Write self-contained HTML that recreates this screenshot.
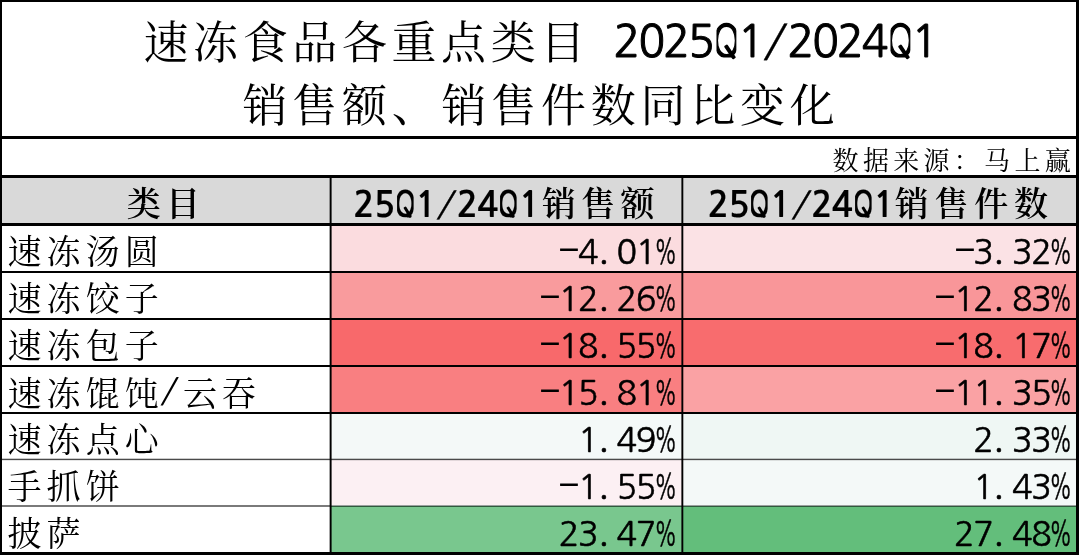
<!DOCTYPE html><html><head><meta charset="utf-8"><style>
*{margin:0;padding:0;box-sizing:border-box}
html,body{width:1080px;height:556px;overflow:hidden;background:#fff}
body{position:relative;font-family:"Liberation Serif","Noto Serif CJK SC",serif;color:#000}
.a{position:absolute;white-space:nowrap}
.k{font-family:"Liberation Serif","Noto Serif CJK SC",serif;line-height:1;font-weight:400}
.b{font-weight:600}
.ln{position:absolute;background:#000}
.bg{position:absolute}
.lat{font-family:"NanumGothic",sans-serif;line-height:1}
.m{display:inline-flex;justify-content:center}
.t1{font-weight:400;-webkit-text-stroke:1.0px #000}
.t1 .m{width:24.83px;transform:scaleX(1.0)}
.hd{font-weight:700;-webkit-text-stroke:0.15px #000}
.hd .m{width:20.7px;transform:scaleX(1.0)}
.nm{font-weight:400;-webkit-text-stroke:0.55px #000}
.nm .m{width:19.3px;transform:scaleX(1.0)}
.nm .d{transform:translateY(-1px) scaleX(2);-webkit-text-stroke:0}
.nm .o{transform:translate(-4px,-1.5px) scale(1.15);transform-origin:50% 88%}
.nm .p{transform:scaleX(.62)}
.t1 .q{transform:scaleX(.8);clip-path:inset(0 0 5.7px 0);-webkit-text-stroke:1.5px #000}
.t1 .s{transform:skewX(-12deg);-webkit-text-stroke:0.3px #000}
.hd .q{transform:scaleX(.8);clip-path:inset(0 0 5px 0)}
.hd .s{transform:skewX(-14deg);font-weight:400;-webkit-text-stroke:0.3px #000}
.qt{position:absolute;background:#000;border-radius:1px}
.sl{display:inline-flex;justify-content:center;font-family:"NanumGothic",sans-serif;font-weight:400;width:19px;transform:translate(-1.5px,-3.5px) skewX(-12deg)}
</style></head><body>
<div class="bg" style="left:2px;top:178px;width:1075px;height:45px;background:#d9d9d9"></div>
<div class="bg" style="left:331px;top:226px;width:352px;height:47px;background:#fbdcdf"></div>
<div class="bg" style="left:683px;top:226px;width:394px;height:47px;background:#fbe2e5"></div>
<div class="bg" style="left:331px;top:273px;width:352px;height:47px;background:#f99b9d"></div>
<div class="bg" style="left:683px;top:273px;width:394px;height:47px;background:#f99699"></div>
<div class="bg" style="left:331px;top:320px;width:352px;height:47px;background:#f8696b"></div>
<div class="bg" style="left:683px;top:320px;width:394px;height:47px;background:#f86c6e"></div>
<div class="bg" style="left:331px;top:367px;width:352px;height:47px;background:#f97f81"></div>
<div class="bg" style="left:683px;top:367px;width:394px;height:47px;background:#faa2a4"></div>
<div class="bg" style="left:331px;top:414px;width:352px;height:45px;background:#f4f9f8"></div>
<div class="bg" style="left:683px;top:414px;width:394px;height:45px;background:#eff7f4"></div>
<div class="bg" style="left:331px;top:459px;width:352px;height:48px;background:#fcf0f3"></div>
<div class="bg" style="left:683px;top:459px;width:394px;height:48px;background:#f4f9f8"></div>
<div class="bg" style="left:331px;top:507px;width:352px;height:48px;background:#79c78e"></div>
<div class="bg" style="left:683px;top:507px;width:394px;height:48px;background:#63be7b"></div>
<div class="ln" style="left:0px;top:0px;width:1079px;height:2px;background:#000"></div>
<div class="ln" style="left:0px;top:136px;width:1079px;height:3px;background:#000"></div>
<div class="ln" style="left:0px;top:175px;width:1079px;height:3px;background:#000"></div>
<div class="ln" style="left:0px;top:223px;width:1079px;height:3px;background:#000"></div>
<div class="ln" style="left:0px;top:271px;width:1079px;height:2px;background:#000"></div>
<div class="ln" style="left:0px;top:318px;width:1079px;height:2px;background:#000"></div>
<div class="ln" style="left:0px;top:365px;width:1079px;height:2px;background:#000"></div>
<div class="ln" style="left:0px;top:412px;width:1079px;height:2px;background:#000"></div>
<div class="ln" style="left:0px;top:459px;width:1079px;height:1px;background:#4a4a4a"></div>
<div class="ln" style="left:0px;top:458px;width:1079px;height:1px;background:rgba(0,0,0,.2)"></div>
<div class="ln" style="left:0px;top:460px;width:1079px;height:1px;background:rgba(0,0,0,.1)"></div>
<div class="ln" style="left:0px;top:505px;width:331px;height:2px;background:#7a7a7a"></div>
<div class="ln" style="left:331px;top:505px;width:748px;height:1px;background:#9aa09e"></div>
<div class="ln" style="left:331px;top:506px;width:748px;height:1px;background:#2f5a3c"></div>
<div class="ln" style="left:0px;top:552px;width:1079px;height:3px;background:#000"></div>
<div class="ln" style="left:0px;top:0px;width:2px;height:555px;background:#000"></div>
<div class="ln" style="left:1076px;top:0px;width:3px;height:555px;background:#000"></div>
<div class="ln" style="left:329px;top:178px;width:1px;height:375px;background:rgba(0,0,0,.35)"></div>
<div class="ln" style="left:330px;top:178px;width:1px;height:375px;background:#000"></div>
<div class="ln" style="left:331px;top:178px;width:1px;height:375px;background:rgba(0,0,0,.6)"></div>
<div class="ln" style="left:681px;top:178px;width:1px;height:375px;background:rgba(0,0,0,.6)"></div>
<div class="ln" style="left:682px;top:178px;width:1px;height:375px;background:#000"></div>
<div class="ln" style="left:683px;top:178px;width:1px;height:375px;background:rgba(0,0,0,.3)"></div>
<div class="a k" style="left:143.5px;top:21.5px;font-size:45px;letter-spacing:4.6px">速冻食品各重点类目</div>
<div class="a lat t1" style="left:614.5px;top:19.2px;font-size:44px"><span class="m">2</span><span class="m">0</span><span class="m">2</span><span class="m">5</span><span class="m q">Q</span><span class="m">1</span><span class="m s">/</span><span class="m">2</span><span class="m">0</span><span class="m">2</span><span class="m">4</span><span class="m q">Q</span><span class="m">1</span></div>
<div class="a k" style="left:242.5px;top:84.5px;font-size:45px;letter-spacing:4.75px">销售额、销售件数同比变化</div>
<div class="a k" style="right:5px;top:149px;font-size:26px;letter-spacing:4.3px">数据来源：马上赢</div>
<div class="a k b" style="left:2px;width:328px;text-align:center;top:188px;font-size:34px;letter-spacing:5.2px">类目</div>
<div class="a lat hd" style="left:353.5px;top:186.5px;font-size:35px"><span class="m">2</span><span class="m">5</span><span class="m q">Q</span><span class="m">1</span><span class="m s">/</span><span class="m">2</span><span class="m">4</span><span class="m q">Q</span><span class="m">1</span></div>
<div class="a k b" style="left:542px;top:188px;font-size:34px;letter-spacing:5.2px">销售额</div>
<div class="a lat hd" style="left:708px;top:186.5px;font-size:35px"><span class="m">2</span><span class="m">5</span><span class="m q">Q</span><span class="m">1</span><span class="m s">/</span><span class="m">2</span><span class="m">4</span><span class="m q">Q</span><span class="m">1</span></div>
<div class="a k b" style="left:894.8px;top:188px;font-size:34px;letter-spacing:5.7px">销售件数</div>
<div class="a k" style="left:7.5px;top:236px;font-size:34px;letter-spacing:5.1px">速冻汤圆</div>
<div class="a lat nm" style="right:404.95px;top:234.5px;font-size:34px"><span class="m d">-</span><span class="m">4</span><span class="m o">.</span><span class="m">0</span><span class="m">1</span><span class="m p">%</span></div>
<div class="a lat nm" style="right:9.50px;top:234.5px;font-size:34px"><span class="m d">-</span><span class="m">3</span><span class="m o">.</span><span class="m">3</span><span class="m">2</span><span class="m p">%</span></div>
<div class="a k" style="left:7.5px;top:283px;font-size:34px;letter-spacing:5.1px">速冻饺子</div>
<div class="a lat nm" style="right:404.95px;top:281.5px;font-size:34px"><span class="m d">-</span><span class="m">1</span><span class="m">2</span><span class="m o">.</span><span class="m">2</span><span class="m">6</span><span class="m p">%</span></div>
<div class="a lat nm" style="right:9.50px;top:281.5px;font-size:34px"><span class="m d">-</span><span class="m">1</span><span class="m">2</span><span class="m o">.</span><span class="m">8</span><span class="m">3</span><span class="m p">%</span></div>
<div class="a k" style="left:7.5px;top:330px;font-size:34px;letter-spacing:5.1px">速冻包子</div>
<div class="a lat nm" style="right:404.95px;top:328.5px;font-size:34px"><span class="m d">-</span><span class="m">1</span><span class="m">8</span><span class="m o">.</span><span class="m">5</span><span class="m">5</span><span class="m p">%</span></div>
<div class="a lat nm" style="right:9.50px;top:328.5px;font-size:34px"><span class="m d">-</span><span class="m">1</span><span class="m">8</span><span class="m o">.</span><span class="m">1</span><span class="m">7</span><span class="m p">%</span></div>
<div class="a k" style="left:7.5px;top:377px;font-size:34px;letter-spacing:5.1px">速冻馄饨<span class="sl">/</span>云吞</div>
<div class="a lat nm" style="right:404.95px;top:375.5px;font-size:34px"><span class="m d">-</span><span class="m">1</span><span class="m">5</span><span class="m o">.</span><span class="m">8</span><span class="m">1</span><span class="m p">%</span></div>
<div class="a lat nm" style="right:9.50px;top:375.5px;font-size:34px"><span class="m d">-</span><span class="m">1</span><span class="m">1</span><span class="m o">.</span><span class="m">3</span><span class="m">5</span><span class="m p">%</span></div>
<div class="a k" style="left:7.5px;top:424px;font-size:34px;letter-spacing:5.1px">速冻点心</div>
<div class="a lat nm" style="right:404.95px;top:422.5px;font-size:34px"><span class="m">1</span><span class="m o">.</span><span class="m">4</span><span class="m">9</span><span class="m p">%</span></div>
<div class="a lat nm" style="right:9.50px;top:422.5px;font-size:34px"><span class="m">2</span><span class="m o">.</span><span class="m">3</span><span class="m">3</span><span class="m p">%</span></div>
<div class="a k" style="left:7.5px;top:471px;font-size:34px;letter-spacing:5.1px">手抓饼</div>
<div class="a lat nm" style="right:404.95px;top:469.5px;font-size:34px"><span class="m d">-</span><span class="m">1</span><span class="m o">.</span><span class="m">5</span><span class="m">5</span><span class="m p">%</span></div>
<div class="a lat nm" style="right:9.50px;top:469.5px;font-size:34px"><span class="m">1</span><span class="m o">.</span><span class="m">4</span><span class="m">3</span><span class="m p">%</span></div>
<div class="a k" style="left:7.5px;top:518px;font-size:34px;letter-spacing:5.1px">披萨</div>
<div class="a lat nm" style="right:404.95px;top:516.5px;font-size:34px"><span class="m">2</span><span class="m">3</span><span class="m o">.</span><span class="m">4</span><span class="m">7</span><span class="m p">%</span></div>
<div class="a lat nm" style="right:9.50px;top:516.5px;font-size:34px"><span class="m">2</span><span class="m">7</span><span class="m o">.</span><span class="m">4</span><span class="m">8</span><span class="m p">%</span></div>
<div class="qt" style="left:727.79px;top:43.60px;width:3.8px;height:16.00px;transform:rotate(-34deg)"></div>
<div class="qt" style="left:901.60px;top:43.60px;width:3.8px;height:16.00px;transform:rotate(-34deg)"></div>
<div class="qt" style="left:405.90px;top:206.45px;width:3.4px;height:11.50px;transform:rotate(-31.5deg)"></div>
<div class="qt" style="left:509.40px;top:206.45px;width:3.4px;height:11.50px;transform:rotate(-31.5deg)"></div>
<div class="qt" style="left:760.30px;top:206.45px;width:3.4px;height:11.50px;transform:rotate(-31.5deg)"></div>
<div class="qt" style="left:863.80px;top:206.45px;width:3.4px;height:11.50px;transform:rotate(-31.5deg)"></div>
</body></html>
